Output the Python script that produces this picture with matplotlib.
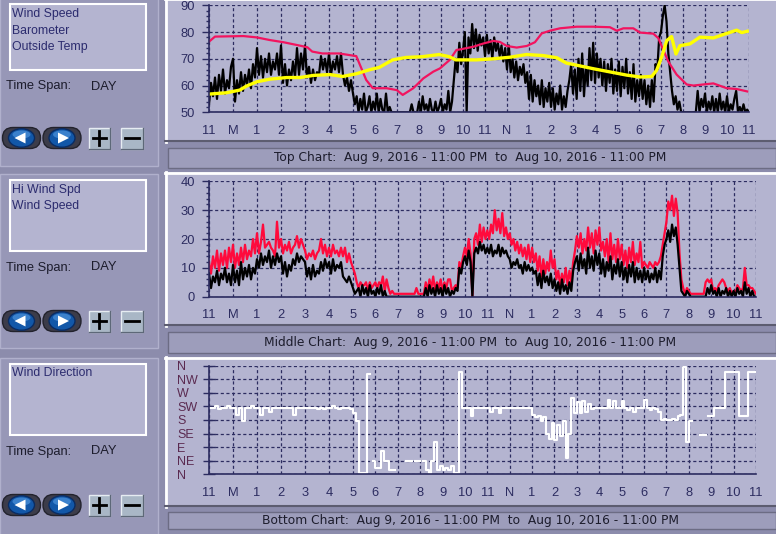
import numpy as np
import matplotlib
matplotlib.use('Agg')
import matplotlib.pyplot as plt
from matplotlib.patches import Rectangle, FancyBboxPatch, Ellipse, Polygon

W, H = 776, 534
plt.rcParams['font.family'] = ['Liberation Sans', 'DejaVu Sans']

OUTER = '#8c8cac'
SIDE = '#9797b7'
PANEL = '#b4b4d0'
CAPTION = '#9d9dbb'
NAVY = '#2c2c60'
INK = '#1c1c2c'

hour_labels = ['11', 'M', '1', '2', '3', '4', '5', '6', '7', '8', '9', '10', '11',
               'N', '1', '2', '3', '4', '5', '6', '7', '8', '9', '10', '11']
dir_labels = ['N', 'NE', 'E', 'SE', 'S', 'SW', 'W', 'NW', 'N']

# top chart, hours after 11 PM Aug 9
baro_hours = [0, 0.25, 1.43, 1.99, 2.54, 3.1, 3.8, 4.1, 4.3, 4.72, 5.42, 6.15, 6.6, 6.9,
              7.53, 7.99, 8.26, 8.74, 9.2, 9.65, 9.95, 10.4, 10.7, 10.86, 11.47, 11.92,
              12.38, 12.68, 12.99, 13.44, 13.9, 14.27, 14.58, 14.95, 15.41, 16.17, 16.92,
              17.68, 17.99, 18.29, 18.74, 19.05, 19.65, 19.88, 20.1, 20.33, 20.71, 21.17,
              21.47, 21.92, 22.38, 22.99, 23.44, 23.92]
baro_vals = [76.4, 78.3, 78.5, 78.0, 77.0, 76.2, 74.9, 74.3, 72.7, 72.0, 72.0, 71.0, 62.1, 59.0,
             59.0, 58.3, 56.5, 59.0, 62.7, 65.2, 66.4, 69.6, 73.3, 73.5, 74.5, 75.7,
             76.7, 76.3, 74.8, 74.2, 74.8, 76.2, 79.5, 80.5, 81.4, 82.0, 82.0,
             81.8, 80.5, 81.4, 81.4, 79.8, 79.4, 77.7, 73.4, 69.0, 64.1, 60.4,
             60.0, 60.4, 60.8, 59.0, 58.7, 57.8]

temp_hours = [0, 0.72, 1.28, 1.56, 1.99, 2.54, 3.24, 3.8, 4.35, 5.04, 5.57, 6.15, 6.75, 7.2,
              7.8, 8.41, 9.16, 9.92, 10.37, 10.67, 11.27, 11.62, 12.38, 13.14, 13.89, 14.65,
              15.26, 15.7, 16.17, 16.92, 17.68, 18.44, 19.05, 19.58, 19.8, 20.03, 20.26,
              20.48, 20.68, 20.86, 21.32, 21.77, 22.38, 22.99, 23.44, 23.67, 23.92]
temp_vals = [56.8, 57.3, 58.3, 59.8, 61.4, 62.4, 63.0, 63.0, 63.8, 64.1, 63.4, 64.4, 65.9, 66.8,
             69.6, 70.5, 70.8, 71.6, 70.8, 69.6, 69.6, 69.6, 70.0, 70.6, 71.6, 71.2,
             70.4, 68.4, 67.6, 66.3, 65.1, 63.9, 63.2, 63.4, 65.7, 70.6, 76.8,
             78.3, 71.8, 74.9, 75.6, 78.1, 77.8, 79.5, 80.7, 79.8, 80.3]

# one reading every 5 minutes, one row per hour
wind_top = [
    53, 61, 56, 63, 55, 64, 58, 66, 57, 62, 59, 67,
    70, 54, 62, 57, 65, 58, 64, 60, 66, 59, 68, 63,
    74, 64, 71, 63, 70, 65, 72, 64, 69, 66, 72, 64,
    75, 61, 68, 60, 66, 62, 69, 63, 74, 64, 72, 66,
    75, 63, 67, 61, 66, 62, 65, 64, 71, 66, 70, 65,
    72, 64, 69, 66, 71, 65, 72, 64, 60, 63, 58, 62,
    57, 53, 56, 50, 55, 51, 57, 50, 52, 56, 50, 54,
    51, 57, 50, 55, 51, 50, 57, 50, 52, 50, 50, 50,
    50, 50, 50, 50, 50, 50, 50, 50, 53, 50, 50, 50,
    54, 50, 56, 51, 53, 50, 55, 51, 50, 54, 50, 52,
    55, 50, 53, 51, 58, 50, 54, 62, 70, 65, 76, 68,
    73, 80, 50, 78, 72, 83, 74, 81, 73, 79, 75, 78,
    71, 79, 72, 77, 70, 78, 73, 76, 71, 75, 69, 74,
    66, 75, 65, 70, 63, 69, 62, 67, 64, 68, 61, 65,
    55, 64, 54, 62, 56, 60, 53, 62, 52, 59, 54, 61,
    52, 59, 51, 57, 53, 60, 51, 56, 52, 58, 62, 68,
    57, 66, 55, 70, 58, 72, 56, 67, 60, 74, 62, 76,
    61, 72, 63, 70, 60, 69, 58, 68, 61, 70, 57, 66,
    58, 69, 56, 67, 59, 70, 57, 65, 55, 68, 54, 62,
    56, 64, 55, 62, 53, 60, 52, 62, 54, 68, 66, 78,
    80, 86, 90, 84, 72, 65, 58, 53, 56, 51, 54, 50,
    50, 50, 50, 50, 50, 50, 50, 50, 58, 50, 55, 52,
    57, 50, 54, 51, 56, 50, 55, 50, 57, 51, 54, 50,
    56, 50, 53, 51, 55, 58, 50, 52, 50, 53, 50, 51,
    50]

hi_wind = [
    12, 8, 14, 10, 16, 9, 15, 11, 16, 10, 17, 12,
    18, 10, 15, 11, 17, 12, 18, 13, 16, 14, 20, 15,
    22, 15, 19, 25, 17, 18, 19, 17, 16, 14, 26, 17,
    20, 15, 18, 16, 19, 15, 17, 18, 21, 17, 20, 18,
    16, 13, 15, 14, 16, 13, 15, 16, 20, 15, 18, 14,
    17, 14, 18, 15, 16, 14, 17, 14, 17, 12, 15, 12,
    10, 8, 5, 3, 5, 4, 4, 5, 2, 5, 3, 4,
    5, 3, 5, 4, 7, 2, 6, 3, 1, 2, 1, 1,
    1, 1, 1, 1, 1, 1, 1, 1, 1, 1, 3, 1,
    1, 1, 1, 5, 2, 6, 3, 7, 2, 5, 3, 6,
    2, 5, 3, 6, 6, 2, 3, 4, 3, 12, 10, 14,
    17, 14, 20, 15, 0, 20, 22, 18, 25, 19, 24, 20,
    23, 20, 25, 22, 30, 23, 27, 22, 29, 21, 24, 20,
    22, 18, 20, 16, 19, 15, 18, 14, 17, 13, 18, 12,
    17, 12, 15, 9, 14, 7, 13, 8, 12, 9, 16, 10,
    13, 6, 9, 4, 8, 5, 10, 4, 9, 5, 12, 16,
    21, 17, 22, 15, 20, 16, 24, 17, 22, 15, 23, 18,
    24, 16, 19, 14, 20, 12, 22, 13, 18, 12, 20, 13,
    18, 11, 16, 10, 17, 12, 19, 11, 15, 12, 19, 10,
    12, 11, 10, 12, 11, 10, 12, 11, 12, 14, 18, 22,
    26, 33, 30, 35, 28, 34, 29, 15, 6, 3, 1, 3,
    2, 1, 1, 1, 1, 1, 1, 1, 1, 5, 6, 5,
    6, 2, 3, 2, 4, 5, 6, 5, 3, 2, 3, 1,
    2, 1, 4, 3, 2, 3, 10, 4, 4, 3, 3, 2,
    1]

wind_speed = [
    8, 3, 7, 5, 9, 4, 8, 6, 10, 5, 8, 4,
    11, 5, 9, 4, 12, 6, 10, 7, 11, 6, 10, 8,
    13, 10, 15, 11, 14, 12, 16, 10, 14, 11, 15, 12,
    14, 8, 12, 7, 11, 9, 13, 11, 15, 12, 14, 13,
    12, 7, 10, 6, 11, 7, 9, 8, 12, 9, 13, 10,
    12, 8, 13, 9, 11, 10, 12, 7, 6, 5, 7, 5,
    3, 1, 2, 3, 0, 4, 1, 3, 0, 4, 1, 2,
    0, 3, 1, 4, 0, 2, 0, 0, 0, 0, 0, 0,
    0, 0, 0, 0, 0, 0, 0, 0, 0, 0, 0, 0,
    0, 0, 0, 3, 0, 4, 1, 3, 0, 4, 1, 3,
    0, 4, 1, 3, 0, 2, 1, 3, 2, 10, 8, 12,
    14, 11, 16, 12, 0, 15, 17, 15, 19, 16, 18, 15,
    17, 15, 18, 14, 16, 15, 18, 14, 17, 15, 16, 14,
    13, 10, 12, 11, 13, 10, 11, 8, 12, 9, 11, 9,
    10, 8, 9, 4, 8, 3, 9, 5, 7, 4, 8, 3,
    6, 2, 5, 1, 6, 2, 4, 1, 5, 2, 9, 12,
    14, 9, 15, 10, 13, 8, 17, 10, 14, 9, 16, 11,
    15, 8, 13, 7, 12, 9, 14, 6, 11, 8, 13, 7,
    12, 6, 10, 5, 11, 7, 12, 5, 10, 6, 9, 5,
    10, 6, 9, 5, 8, 6, 10, 5, 9, 6, 14, 18,
    20, 23, 19, 25, 21, 24, 18, 10, 2, 1, 0, 2,
    1, 0, 0, 0, 0, 0, 0, 0, 0, 0, 3, 1,
    4, 1, 2, 0, 3, 0, 2, 1, 3, 0, 2, 0,
    2, 0, 3, 1, 2, 0, 5, 1, 3, 0, 2, 0,
    0]

# every 7.5 minutes; 0 = N, 2 = E, 4 = S, 6 = W, 8 = N; None = no reading
wind_dir = [
    4.9, 4.9, 5.0, 4.8, 4.9, 4.9, 5.0, 4.9,
    4.9, 4.4, 4.9, 3.9, 4.9, 4.9, 5.0, 4.9,
    4.9, 4.4, 4.9, 4.9, 4.6, 4.9, 4.9, 4.9,
    4.9, 4.9, 4.9, 4.9, 4.4, 4.9, 4.9, 4.9,
    4.9, 4.9, 4.9, 4.9, 4.8, 4.9, 4.8, 4.9,
    4.9, 5.0, 4.9, 4.8, 4.9, 4.9, 4.9, 4.8,
    4.5, 3.9, 0.1, 0.1, 0.1, 7.4, None, 1.0,
    0.5, 0.5, 1.7, 1.0, 1.0, 0.3, 0.3, None,
    None, None, None, 1.0, 1.0, None, 1.0, 1.0,
    None, 1.0, 0.3, 0.1, 1.0, 2.4, 0.3, 0.6,
    0.3, 0.5, 0.3, 0.6, 0.1, 0.1, 7.5, 4.9,
    4.9, 4.9, 4.3, 4.9, 4.9, 4.9, 4.9, 4.9,
    4.9, 4.6, 4.9, 4.9, 4.5, 4.9, 4.9, 4.9,
    4.9, 4.9, 4.9, 4.9, 4.9, 4.9, 4.9, 4.9,
    4.4, 4.2, 4.3, 3.9, 4.2, 3.0, 2.6, 3.8,
    2.5, 3.6, 2.8, 3.9, 1.2, 3.0, 5.6, 4.5,
    5.3, 4.5, 5.4, 4.6, 5.2, 4.8, 4.9, 4.9,
    4.9, 4.9, 4.9, 5.5, 4.9, 5.4, 4.9, 4.9,
    5.4, 4.9, 4.7, 4.9, 4.6, 4.9, 4.9, 4.9,
    5.5, 4.9, 4.7, 4.9, 4.8, 4.6, 4.0, 4.1,
    4.0, 4.0, 4.1, 4.0, 4.3, 4.4, 7.9, 2.4,
    3.9, None, None, None, 2.9, 2.9, None, 4.3,
    4.3, 4.9, 4.9, 4.9, 4.9, 7.5, 7.5, 7.5,
    7.5, 7.5, 4.3, 4.3, 4.3, 7.5, 7.5, 7.5,
    7.5]

legend_items = [['Wind Speed', 'Barometer', 'Outside Temp'],
                ['Hi Wind Spd', 'Wind Speed'],
                ['Wind Direction']]
chart_names = ['Top Chart', 'Middle Chart', 'Bottom Chart']
span_text = 'Aug 9, 2016 - 11:00 PM  to  Aug 10, 2016 - 11:00 PM'


def hour_scale(late):
    # the program draws the first six hours wider than the rest
    def fwd(h):
        h = np.asarray(h, float)
        return np.where(h <= 6, h * 24, 144 + (h - 6) * late)

    def inv(p):
        p = np.asarray(p, float)
        return np.where(p <= 144, p / 24, 6 + (p - 144) / late)
    return fwd, inv


fig = plt.figure(figsize=(W / 100, H / 100), dpi=100)
fig.patch.set_facecolor(OUTER)


def px_axes(left, top, right, bottom, **kw):
    return fig.add_axes([left / W, 1 - bottom / H, (right - left) / W, (bottom - top) / H], **kw)


# window chrome drawn in pixel coordinates
bg = px_axes(0, 0, W, H, zorder=0)
bg.set_xlim(0, W)
bg.set_ylim(H, 0)
bg.axis('off')

sections = [(-2, 166), (174, 348), (358, 540)]
panels = [(-2, 142), (172, 326), (357, 507)]
captions = [(147.5, 167.5), (332, 352.5), (512, 528.5)]
boxes = [(4, 70), (179.5, 250.5), (363.5, 435)]
span_y = [86.5, 267.5, 451.5]
button_y = [138, 321, 505]

for i in range(3):
    top, bottom = sections[i]
    bg.add_patch(Rectangle((0, top), 158, bottom - top, fc=SIDE, ec='#b0b0cc', lw=1))

    top, bottom = panels[i]
    bg.add_patch(Rectangle((165, top), W - 165, bottom - top, fc=PANEL, ec='none'))
    bg.plot([165, W], [top + 1, top + 1], color='white', lw=2)
    bg.plot([166, 166], [top, bottom], color='white', lw=2)
    bg.plot([165, W], [bottom - 1, bottom - 1], color='#5c5c70', lw=1.5)

    top, bottom = captions[i]
    bg.add_patch(Rectangle((167.5, top), W - 168, bottom - top, fc=CAPTION, ec='#6c6c84', lw=1))
    bg.text(470, (top + bottom) / 2 + 0.5, chart_names[i] + ':  ' + span_text,
            ha='center', va='center', fontsize=8.8, color=INK, family='DejaVu Sans')

    top, bottom = boxes[i]
    bg.add_patch(Rectangle((9.5, top), 136, bottom - top, fc=PANEL, ec='white', lw=1.5))
    for k, name in enumerate(legend_items[i]):
        bg.text(12, top + 10 + k * 16.7, name, ha='left', va='center', fontsize=8.8, color='#2b2b6e')

    bg.text(5.5, span_y[i], 'Time Span:', ha='left', va='center', fontsize=9.3, color=INK)
    bg.text(90.5, span_y[i], 'DAY', ha='left', va='center', fontsize=9.3, color=INK)

    cy = button_y[i]
    for x0, point_left in [(2.5, True), (43, False)]:
        bg.add_patch(FancyBboxPatch((x0, cy - 10.5), 38, 21, boxstyle='round,pad=0,rounding_size=10.5',
                                    fc='#3c3c4a', ec='#22222c', lw=1))
        cx = x0 + 19
        bg.add_patch(Ellipse((cx, cy), 26, 18.5, fc='#1257a8', ec='#0b2c62', lw=1))
        bg.add_patch(Ellipse((cx, cy - 3.5), 18, 8, fc='#4d93dc', ec='none', alpha=0.7))
        if point_left:
            tri = [(cx - 7, cy), (cx + 4, cy - 5.5), (cx + 4, cy + 5.5)]
        else:
            tri = [(cx + 7, cy), (cx - 4, cy - 5.5), (cx - 4, cy + 5.5)]
        bg.add_patch(Polygon(tri, closed=True, fc='white', ec='none'))
    for x0, plus in [(88.5, True), (121, False)]:
        bg.add_patch(Rectangle((x0, cy - 10.5), 21.5, 21.5, fc='#a9b7c6', ec='#e6ecf2', lw=1))
        bg.plot([x0 + 21.5, x0 + 21.5, x0], [cy - 10.5, cy + 11, cy + 11], color='#5d6878', lw=1)
        bg.plot([x0 + 4, x0 + 17.5], [cy, cy], color='black', lw=2)
        if plus:
            bg.plot([x0 + 10.75, x0 + 10.75], [cy - 7, cy + 7], color='black', lw=2)


def style_chart(ax, late):
    ax.set_facecolor('none')
    ax.set_xscale('function', functions=hour_scale(late))
    ax.set_xlim(0, 24)
    ax.set_xticks(range(25))
    ax.set_xticklabels(hour_labels)
    ax.tick_params(axis='x', length=0, pad=9, labelsize=9.3, labelcolor=NAVY)
    ax.tick_params(axis='y', which='major', direction='out', length=5, width=1,
                   color=NAVY, pad=5, labelsize=9.3, labelcolor=NAVY)
    ax.tick_params(axis='y', which='minor', direction='out', length=2.5, width=1, color=NAVY)
    for side in ['top', 'right']:
        ax.spines[side].set_visible(False)
    for side in ['left', 'bottom']:
        ax.spines[side].set_color(NAVY)
        ax.spines[side].set_linewidth(1.2)
    ax.grid(True, which='major', color=NAVY, linestyle=(0, (2.5, 2)), linewidth=0.9)
    ax.set_axisbelow(True)


five_min = np.arange(len(wind_top)) / 12
dir_hours = np.arange(len(wind_dir)) / 8

# top chart
ax1 = px_axes(209, 5.3, 749, 112.3, zorder=2)
style_chart(ax1, 22)
ax1.set_ylim(50, 90)
ax1.set_yticks(range(50, 91, 10))
ax1.set_yticks(range(50, 91, 2), minor=True)
ax1.plot(five_min, wind_top, color='black', lw=1.6)
ax1.plot(baro_hours, baro_vals, color='#f2145f', lw=1.6)
ax1.plot(temp_hours, temp_vals, color='#ffff00', lw=2.4)

# middle chart
ax2 = px_axes(209, 181.3, 756, 296.7, zorder=2)
style_chart(ax2, 22.39)
ax2.set_ylim(0, 40)
ax2.set_yticks(range(0, 41, 10))
ax2.set_yticks(range(0, 41, 2), minor=True)
ax2.plot(five_min, hi_wind, color='#ff0a3c', lw=1.6)
ax2.plot(five_min, wind_speed, color='black', lw=1.6)

# bottom chart
ax3 = px_axes(209, 365.7, 756, 474.3, zorder=2)
style_chart(ax3, 22.39)
ax3.set_ylim(0, 8)
ax3.set_yticks(range(9))
ax3.set_yticklabels(dir_labels)
ax3.tick_params(axis='y', which='major', direction='inout', length=9, pad=18.5, labelsize=9)
for lab in ax3.get_yticklabels():
    lab.set_horizontalalignment('left')
    lab.set_color('#5a2a50')
ax3.plot(dir_hours, np.array(wind_dir, dtype=float), color='white', lw=1.5, drawstyle='steps-post')

fig.savefig('out.png', dpi=100, facecolor=fig.get_facecolor())
